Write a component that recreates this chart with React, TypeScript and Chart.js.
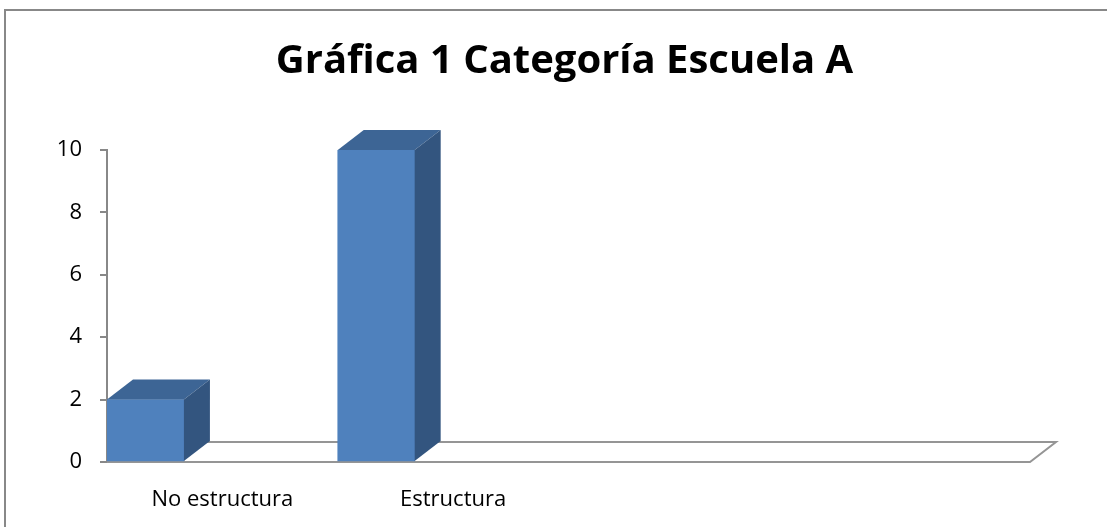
import React, { useEffect, useRef } from "react";
import { Chart, registerables } from "chart.js";

Chart.register(...registerables);

const TITLE = "Gráfica 1 Categoría Escuela A";
const categories = ["No estructura", "Estructura", "", ""];
const values: (number | null)[] = [2, 10, null, null];
const yMin = 0;
const yMax = 10;
const yStep = 2;

const FRONT = "#4F81BD";
const TOP = "#3D6595";
const SIDE = "#33557F";
const LINE = "#959595";
const DX = 26;
const DY = -20;

const frame3d = {
  id: "frame3d",
  beforeDraw(chart: any) {
    const ctx = chart.ctx;
    ctx.save();
    ctx.strokeStyle = "#888888";
    ctx.lineWidth = 2;
    ctx.strokeRect(5, 10, 1300, 700);
    ctx.restore();
  },
  beforeDatasetsDraw(chart: any) {
    const { ctx, chartArea } = chart;
    const b = chartArea.bottom;
    ctx.save();
    ctx.strokeStyle = LINE;
    ctx.lineWidth = 2;
    ctx.beginPath();
    ctx.moveTo(chartArea.left, b);
    ctx.lineTo(chartArea.right, b);
    ctx.lineTo(chartArea.right + DX, b + DY);
    ctx.lineTo(chartArea.left + DX, b + DY);
    ctx.stroke();
    ctx.restore();
  },
  afterDatasetsDraw(chart: any) {
    const ctx = chart.ctx;
    const meta = chart.getDatasetMeta(0);
    ctx.save();
    meta.data.forEach((el: any, i: number) => {
      if (values[i] == null) return;
      const { x, y, base, width } = el.getProps(["x", "y", "base", "width"], true);
      const l = x - width / 2;
      const r = x + width / 2;
      ctx.fillStyle = TOP;
      ctx.beginPath();
      ctx.moveTo(l, y);
      ctx.lineTo(l + DX, y + DY);
      ctx.lineTo(r + DX, y + DY);
      ctx.lineTo(r, y);
      ctx.closePath();
      ctx.fill();
      ctx.fillStyle = SIDE;
      ctx.beginPath();
      ctx.moveTo(r, y);
      ctx.lineTo(r + DX, y + DY);
      ctx.lineTo(r + DX, base + DY);
      ctx.lineTo(r, base);
      ctx.closePath();
      ctx.fill();
    });
    ctx.restore();
  },
};

export default function App() {
  const ref = useRef<HTMLCanvasElement>(null);
  useEffect(() => {
    if (!ref.current) return;
    Chart.defaults.font.family = "'Open Sans', sans-serif";
    Chart.defaults.color = "#000000";
    const chart = new Chart(ref.current, {
      type: "bar",
      data: {
        labels: categories,
        datasets: [
          { data: values, backgroundColor: FRONT, borderWidth: 0, categoryPercentage: 1, barPercentage: 1 },
          { data: categories.map(() => null), backgroundColor: FRONT, categoryPercentage: 1, barPercentage: 1 },
          { data: categories.map(() => null), backgroundColor: FRONT, categoryPercentage: 1, barPercentage: 1 },
        ],
      },
      options: {
        responsive: false,
        animation: false,
        devicePixelRatio: 1,
        layout: { padding: { left: 22, right: 0, top: 0, bottom: 0 } },
        plugins: {
          legend: { display: false },
          tooltip: { enabled: false },
          title: {
            display: true,
            text: TITLE,
            color: "#000000",
            font: { size: 40, weight: "bold", family: "'Open Sans', sans-serif" },
            padding: { top: 38, bottom: 64 },
          },
        },
        scales: {
          x: {
            grid: { display: false, drawTicks: false },
            border: { display: false },
            ticks: { font: { size: 22 }, color: "#000000", padding: 25, maxRotation: 0, autoSkip: false },
            afterFit: (s: any) => {
              s.height = 65;
            },
          },
          y: {
            min: yMin,
            max: yMax,
            grid: { drawOnChartArea: false, drawTicks: true, tickLength: 7, color: "#888888", lineWidth: 2 },
            border: { display: true, color: "#888888", width: 2 },
            ticks: { stepSize: yStep, font: { size: 22 }, color: "#000000", padding: 18 },
            afterFit: (s: any) => {
              s.width = 85;
            },
          },
          yRight: {
            position: "right",
            display: true,
            min: yMin,
            max: yMax,
            grid: { display: false, drawTicks: false },
            border: { display: false },
            ticks: { display: false },
            afterFit: (s: any) => {
              s.width = 77;
            },
          },
        },
      },
      plugins: [frame3d],
    });
    return () => chart.destroy();
  }, []);
  return (
    <div style={{ position: "fixed", left: 0, top: 0, width: 1107, height: 527, background: "#fff", overflow: "hidden" }}>
      <canvas ref={ref} width={1107} height={527} style={{ display: "block" }} />
    </div>
  );
}
